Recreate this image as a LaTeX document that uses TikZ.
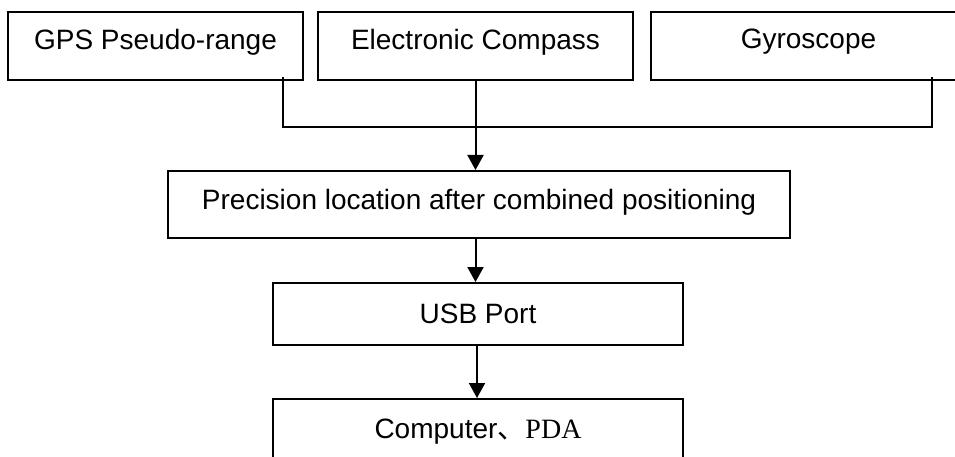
\documentclass[tikz,border=0pt]{standalone}
\usepackage{fontspec}
\setmainfont{Liberation Sans}
\newfontfamily\cjkfont{Noto Sans CJK SC}
\newfontfamily\seriffont{Liberation Serif}
\usetikzlibrary{arrows.meta}
\begin{document}
\begin{tikzpicture}[x=1pt,y=-1pt,
  box/.style={draw, line width=2pt, rectangle, inner xsep=0pt, inner ysep=0pt, anchor=north,
    font=\fontsize{28}{32}\selectfont},
  link/.style={line width=2pt},
  arr/.style={line width=2pt, -{Triangle[length=15pt,width=16pt]}}]
\useasboundingbox (0,0) rectangle (955,457);
\node[box, minimum width=295pt, text height=38pt, text depth=30pt] (gps) at (155.5,11) {GPS Pseudo-range};
\node[box, minimum width=315pt, text height=38pt, text depth=30pt] (compass) at (475.5,11) {Electronic Compass};
\node[box, minimum width=315pt, text height=37pt, text depth=31pt] (gyro) at (808.5,11) {Gyroscope};
\node[box, minimum width=622pt, text height=38pt, text depth=29pt] (prec) at (479,170) {Precision location after combined positioning};
\node[box, minimum width=410pt, text height=40pt, text depth=22pt] (usb) at (478,282) {USB Port};
\node[box, minimum width=410pt, text height=39pt, text depth=40pt] (comp) at (478,398) {Computer{\cjkfont 、}{\seriffont PDA}};
\coordinate (ga) at ([xshift=-21pt,yshift=4pt]gps.south east);
\coordinate (gb) at ([xshift=282pt,yshift=4pt]gyro.south west);
\coordinate (j) at ([yshift=-46pt]compass.south);
\draw[link] (ga) -- (ga |- j) -- (gb |- j) -- (gb);
\draw[arr] (compass.south) -- (compass.south |- prec.north);
\draw[arr] (prec.south -| compass.south) -- (compass.south |- usb.north);
\draw[arr] ([xshift=1.5pt]usb.south -| compass.south) -- ([xshift=1.5pt]compass.south |- comp.north);
\end{tikzpicture}
\end{document}
